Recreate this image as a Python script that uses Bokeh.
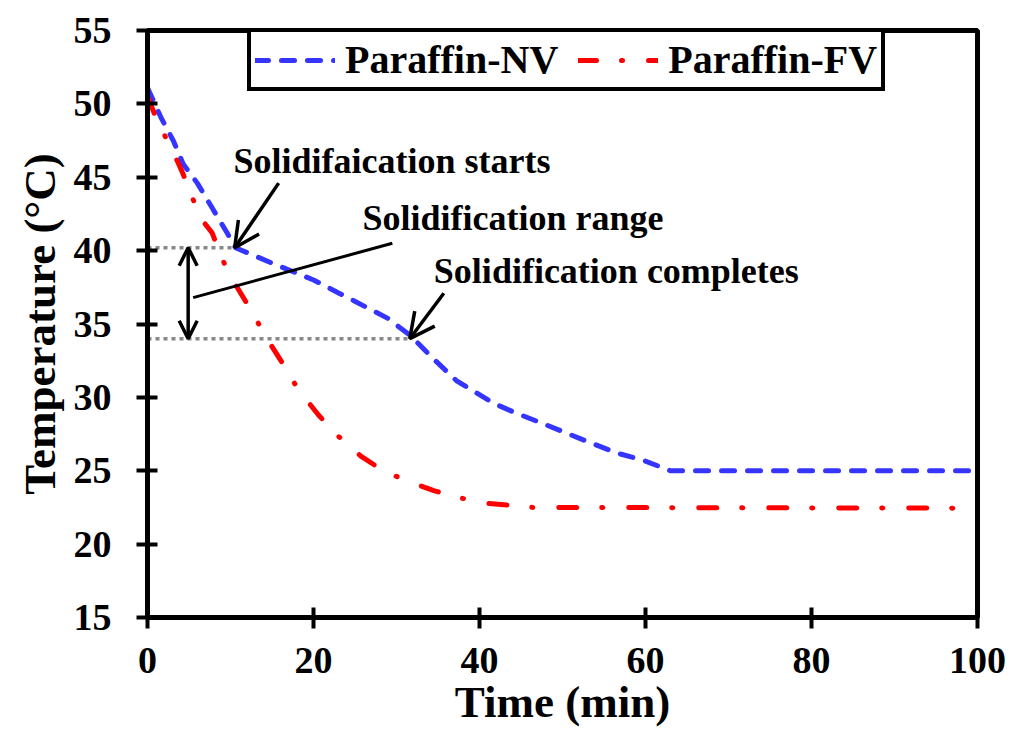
from bokeh.models import Range1d, FixedTicker, Arrow, OpenHead, Label, Legend, LegendItem
from bokeh.plotting import figure
from bokeh.embed import file_html
from bokeh.resources import INLINE

# cooling curves (time in min, temperature in degC)
nv_time = [0, 1.6, 3.1, 4.3, 6.0, 7.8, 9.6, 10.6, 15.2, 20.0, 24.8, 28.9, 31.7,
           34.5, 37.3, 41.7, 44.1, 47.7, 52.5, 56.6, 59.8, 63.0, 100]
nv_temp = [51.1, 49.1, 47.5, 45.9, 44.6, 42.9, 41.2, 40.2, 39.1, 38.0, 36.6, 35.4, 34.2,
           32.6, 31.1, 29.6, 29.0, 28.2, 27.1, 26.2, 25.7, 25.0, 25.0]

fv_time = [0, 1.0, 2.2, 3.6, 4.3, 5.4, 6.7, 7.8, 8.8, 10.0, 10.8, 12.4, 14.5, 16.3,
           18.2, 20.6, 22.9, 25.7, 28.4, 31.3, 34.5, 37.3, 40.5, 43.5, 46.5, 100]
fv_temp = [50.5, 49.1, 47.7, 46.1, 45.2, 43.6, 42.0, 41.2, 39.7, 38.2, 37.5, 36.0, 33.9, 32.3,
           30.5, 28.8, 27.4, 26.0, 25.0, 24.3, 23.65, 23.2, 22.8, 22.65, 22.5, 22.45]

x_ticks = [0, 20, 40, 60, 80, 100]
y_ticks = [15, 20, 25, 30, 35, 40, 45, 50, 55]

# solidification start / end points on the NV curve
start_t, start_T = 10.5, 40.2
end_t, end_T = 31.6, 34.0

FONT = "Liberation Serif"

p = figure(width=1024, height=739, x_range=Range1d(0, 100), y_range=Range1d(15, 55),
           output_backend="svg", toolbar_location=None,
           min_border_left=147, min_border_right=47, min_border_top=30, min_border_bottom=122)
p.background_fill_color = "white"
p.border_fill_color = "white"
p.xgrid.grid_line_color = None
p.ygrid.grid_line_color = None
p.outline_line_color = "black"
p.outline_line_width = 5
p.outline_line_alpha = 1

p.xaxis.ticker = FixedTicker(ticks=x_ticks)
p.yaxis.ticker = FixedTicker(ticks=y_ticks)
for ax in (p.xaxis, p.yaxis):
    ax.axis_line_width = 5
    ax.axis_line_color = "black"
    ax.major_tick_line_width = 4
    ax.major_tick_line_color = "black"
    ax.major_tick_in = 10
    ax.major_tick_out = 11
    ax.minor_tick_line_color = None
    ax.major_label_text_font = FONT
    ax.major_label_text_font_style = "bold"
    ax.major_label_text_font_size = "38px"
    ax.major_label_text_color = "black"
    ax.axis_label_text_font = FONT
    ax.axis_label_text_font_style = "bold"
    ax.axis_label_text_font_size = "45px"
    ax.axis_label_text_color = "black"

p.xaxis.axis_label = "Time (min)"
p.yaxis.axis_label = "Temperature (°C)"
p.xaxis.major_label_standoff = 19
p.xaxis.axis_label_standoff = 1
p.yaxis.major_label_standoff = 25
p.yaxis.axis_label_standoff = 6

# guide lines for the solidification range
p.line([0, start_t], [start_T, start_T], line_color="#888888", line_width=3.5, line_dash="4 4")
p.line([0, end_t], [end_T, end_T], line_color="#888888", line_width=3.5, line_dash="4 4")

r_nv = p.line(nv_time, nv_temp, line_color="#3535FF", line_width=5, line_dash="13 13",
              line_cap="round")
r_fv = p.line(fv_time, fv_temp, line_color="#FF0000", line_width=5, line_dash="18 25 1 26",
              line_cap="round")

# annotations
p.add_layout(Arrow(end=OpenHead(size=25, line_width=3.5), x_start=15.8, y_start=44.6,
                   x_end=start_t, y_end=start_T, line_width=3.5))
p.add_layout(Arrow(end=OpenHead(size=25, line_width=3.5), x_start=35.7, y_start=37.1,
                   x_end=end_t, y_end=end_T, line_width=3.5))
p.add_layout(Arrow(start=OpenHead(size=18, line_width=3.5), end=OpenHead(size=18, line_width=3.5),
                   x_start=4.9, y_start=start_T, x_end=4.9, y_end=end_T, line_width=3.5))
p.segment(x0=[5.5], y0=[36.8], x1=[29.5], y1=[40.5], line_color="black", line_width=3)

for tx, ty, txt in [(10.36, 46.1, "Solidifaication starts"),
                    (25.9, 42.2, "Solidification range"),
                    (34.5, 38.6, "Solidification completes")]:
    p.add_layout(Label(x=tx, y=ty, text=txt, text_font=FONT, text_font_style="bold",
                       text_font_size="36px", text_color="black", text_baseline="alphabetic"))

legend = Legend(items=[LegendItem(label="Paraffin-NV", renderers=[r_nv]),
                       LegendItem(label="Paraffin-FV", renderers=[r_fv])],
                orientation="horizontal", location=(100, 526),
                label_text_font=FONT, label_text_font_style="bold", label_text_font_size="40px",
                label_text_color="black",
                glyph_width=80, glyph_height=40, label_height=40, label_standoff=10,
                spacing=20, padding=4, margin=0,
                border_line_color="black", border_line_width=4, border_line_alpha=1,
                background_fill_alpha=1)
p.add_layout(legend)

open("out.html", "w").write(file_html(p, INLINE))
